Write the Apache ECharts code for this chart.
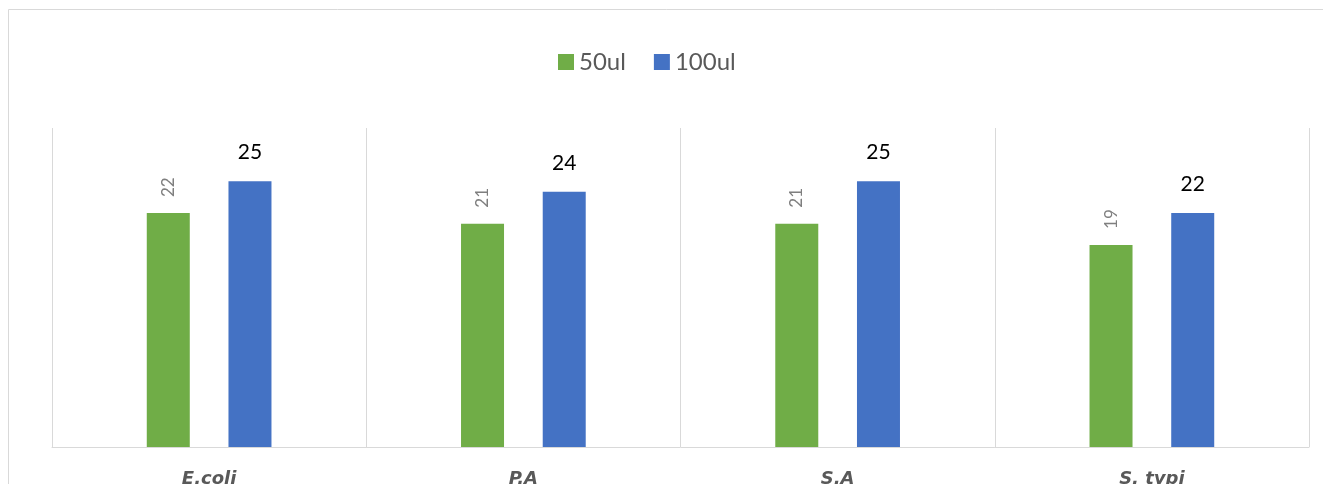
<!DOCTYPE html>
<html>
<head>
<meta charset="utf-8">
<script src="https://cdn.jsdelivr.net/npm/echarts@6/dist/echarts.min.js"></script>
<style>
  html, body { margin: 0; padding: 0; background: #fff; }
  #wrap { width: 1323px; height: 484px; }
</style>
</head>
<body>
<div id="wrap"></div>
<script>
// data
var categories = ['E.coli', 'P.A', 'S.A', 'S. typi'];
var seriesNames = ['50ul', '100ul'];
var vals50 = [22, 21, 21, 19];
var vals100 = [25, 24, 25, 22];

var font = 'Lato, "Liberation Sans", sans-serif';

var myChart = echarts.init(document.getElementById('wrap'));

var option = {
    animation: false,
    textStyle: { fontFamily: font },
    graphic: [{
        type: 'rect',
        shape: { x: 8.5, y: 9.5, width: 1400, height: 600 },
        style: { fill: 'none', stroke: '#d9d9d9', lineWidth: 1 },
        silent: true
    }],
    legend: {
        top: 45,
        left: 553,
        icon: 'rect',
        itemWidth: 16,
        itemHeight: 16,
        itemGap: 28,
        textStyle: { fontSize: 24, color: '#595959', fontFamily: font },
        data: seriesNames
    },
    grid: { left: 52, right: 14, top: 128, bottom: 37, outerBoundsMode: 'none', containLabel: false },
    xAxis: {
        type: 'category',
        data: categories,
        axisLine: { lineStyle: { color: '#d9d9d9', width: 1 } },
        axisTick: { show: false },
        splitLine: { show: true, lineStyle: { color: '#d9d9d9', width: 1 } },
        axisLabel: {
            margin: 23,
            fontSize: 18,
            fontWeight: 'bold',
            fontStyle: 'italic',
            color: '#595959',
            fontFamily: '"DejaVu Sans", sans-serif'
        }
    },
    yAxis: {
        type: 'value',
        min: 0,
        max: 30,
        show: false,
        splitLine: { show: false }
    },
    series: [
        {
            name: seriesNames[0],
            type: 'bar',
            data: vals50,
            barWidth: 43,
            barGap: '90%',
            itemStyle: { color: '#70ad47' },
            label: {
                show: true,
                position: 'top',
                rotate: 90,
                align: 'left',
                verticalAlign: 'middle',
                distance: 16,
                fontSize: 17,
                color: '#7f7f7f',
                fontFamily: font
            }
        },
        {
            name: seriesNames[1],
            type: 'bar',
            data: vals100,
            barWidth: 43,
            itemStyle: { color: '#4472c4' },
            label: {
                show: true,
                position: 'top',
                distance: 18,
                fontSize: 21,
                color: '#000',
                fontFamily: font
            }
        }
    ]
};

myChart.setOption(option);
</script>
</body>
</html>
